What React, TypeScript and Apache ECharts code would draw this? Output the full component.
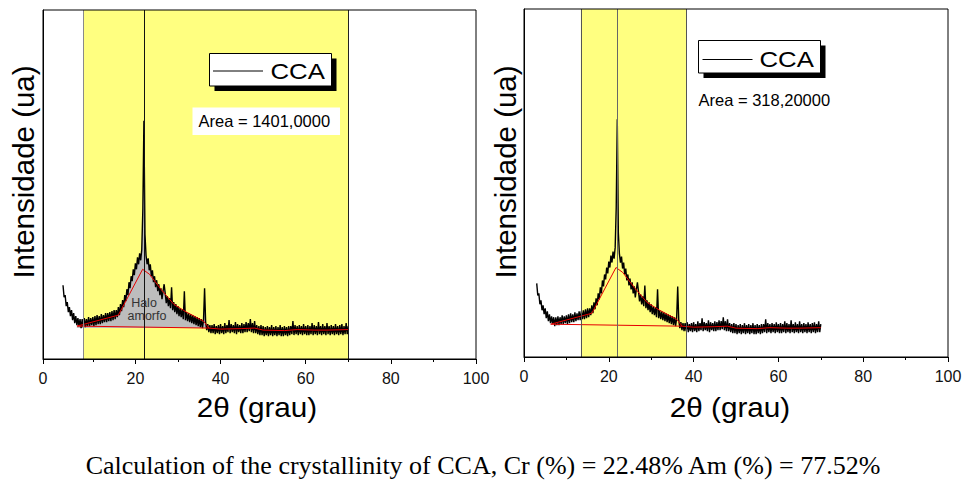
import { useEffect, useRef } from "react";
import * as echarts from "echarts";

// ---- data ----
// XRD scan of CCA: 2θ from 3° to 70°, every 0.25° (noisy trace)
const scanStart = 3;
const scanStep = 0.25;
const intensity = [
  74, 62, 64, 53,
  57, 47, 52, 43,
  49, 39, 46, 36,
  43, 34, 41, 33,
  40, 31, 40, 32,
  41, 32, 40, 33,
  42, 33, 41, 34,
  42, 33, 43, 34,
  44, 35, 43, 35,
  45, 36, 44, 37,
  46, 37, 46, 38,
  47, 38, 48, 39,
  49, 40, 49, 42,
  52, 44, 55, 48,
  59, 52, 64, 58,
  70, 64, 77, 71,
  83, 78, 90, 84,
  96, 90, 102, 95,
  106, 99, 110, 150,
  239, 125, 104, 95,
  101, 89, 95, 83,
  89, 77, 83, 72,
  79, 68, 75, 64,
  71, 60, 68, 75,
  66, 56, 63, 53,
  61, 51, 72, 49,
  57, 47, 55, 45,
  53, 43, 51, 42,
  50, 40, 68, 39,
  47, 38, 46, 37,
  45, 36, 44, 35,
  43, 34, 42, 33,
  41, 32, 40, 31,
  39, 71, 37, 29,
  35, 27, 34, 26,
  34, 26, 35, 25,
  33, 26, 34, 25,
  35, 26, 33, 25,
  36, 26, 34, 27,
  39, 26, 35, 27,
  34, 26, 37, 25,
  35, 27, 34, 26,
  36, 26, 35, 27,
  37, 27, 36, 28,
  40, 27, 36, 26,
  38, 26, 34, 25,
  33, 24, 34, 24,
  33, 23, 32, 24,
  33, 23, 32, 24,
  34, 23, 32, 24,
  33, 23, 32, 24,
  34, 23, 32, 23,
  33, 24, 32, 23,
  33, 24, 33, 25,
  38, 24, 34, 25,
  33, 24, 34, 25,
  33, 24, 35, 25,
  33, 24, 34, 24,
  33, 25, 36, 24,
  34, 25, 33, 24,
  37, 25, 33, 24,
  35, 25, 33, 24,
  36, 25, 33, 24,
  34, 25, 33, 24,
  35, 25, 33, 24,
  34, 25, 35, 24,
  33, 25, 36, 25,
  33,
];

// amorphous halo fit (red)
const haloX = [6.3, 16, 21.7, 23.3, 26, 29, 32, 36, 37.3, 40, 45, 48, 50, 55, 58, 62, 65, 70];
const haloY = [33, 44, 90, 85, 70, 55, 47, 38, 31, 30, 30.5, 31, 29, 28.5, 29.5, 29, 29, 29.5];
// straight baseline (red)
const baseX = [6.3, 37.3];
const baseY = [33, 31];
// shaded "Halo amorfo" region (left panel)
const haloFillFrom = 6.25;
const haloFillTo = 37.25;
const haloFillOrigin = 31;
// integration windows (yellow)
const leftWindow = [7.7, 70];
const rightWindow = [13.4, 38.2];
const mainPeak = 22;

const xTickLabels = ["0", "20", "40", "60", "80", "100"];
const xTickValues = [0, 20, 40, 60, 80, 100];
const xMinorTicks = [10, 30, 50, 70, 90];
const leftAxisStart = -1.7;

const seriesName = "CCA";
const areaTexts = ["Area = 1401,0000", "Area = 318,20000"];
const xTitle = "2θ (grau)";
const yTitle = "Intensidade (ua)";
const haloLabel = ["Halo", "amorfo"];
const caption = "Calculation of the crystallinity of CCA, Cr (%) = 22.48% Am (%) = 77.52%";

const SANS = "'Liberation Sans', Arial, sans-serif";
const SERIF = "'Liberation Serif', 'Times New Roman', serif";

export default function App() {
  const ref = useRef<HTMLDivElement>(null);

  useEffect(() => {
    document.body.style.margin = "0";
    if (!ref.current) return;
    const chart = echarts.init(ref.current, null, { renderer: "svg" });

    const pts = intensity.map((v, i) => [scanStart + i * scanStep, v]);
    const fillPts = pts.filter((p) => p[0] >= haloFillFrom - 1e-9 && p[0] <= haloFillTo + 1e-9);
    const haloPts = haloX.map((x, i) => [x, haloY[i]]);
    const basePts = baseX.map((x, i) => [x, baseY[i]]);

    const leftLabelValues = xTickValues.map((v) => (v === 0 ? leftAxisStart : v));

    const tickLabelStyle = {
      fontSize: 16,
      fontFamily: SANS,
      color: "#111",
      margin: 11,
    };

    const yAxisCommon = {
      type: "value" as const,
      min: 0,
      max: 350,
      axisLine: { show: true, onZero: false, lineStyle: { color: "#000", width: 1 } },
      axisTick: { show: false },
      axisLabel: { show: false },
      splitLine: { show: false },
    };

    const markLineFor = (lines: { x: number; color: string }[]) => ({
      silent: true,
      symbol: ["none", "none"],
      label: { show: false },
      lineStyle: { type: "solid", width: 1 },
      data: lines.map((l) => ({ xAxis: l.x, lineStyle: { color: l.color, type: "solid", width: 1 } })),
    });

    const blackLine = (xi: number, yi: number, win: number[], peakColor: string, leftColor: string, rightColor: string) => ({
      name: seriesName,
      type: "line",
      xAxisIndex: xi,
      yAxisIndex: yi,
      data: pts,
      symbol: "none",
      lineStyle: { color: "#000", width: 1.4 },
      z: 3,
      markArea: {
        silent: true,
        itemStyle: { color: "#ffff80" },
        data: [[{ xAxis: win[0] }, { xAxis: win[1] }]],
      },
      markLine: markLineFor([
        { x: win[0], color: leftColor },
        { x: win[1], color: rightColor },
        { x: mainPeak, color: peakColor },
      ]),
    });

    const redLine = (xi: number, yi: number, data: number[][]) => ({
      type: "line",
      xAxisIndex: xi,
      yAxisIndex: yi,
      data,
      symbol: "none",
      lineStyle: { color: "#e60000", width: 1 },
      z: 4,
    });

    const textEl = (text: string, x: number, y: number, size: number, extra: any = {}, styleExtra: any = {}) => ({
      type: "text",
      x,
      y,
      z: 100,
      ...extra,
      style: {
        text,
        fontSize: size,
        fontFamily: SANS,
        fill: "#000",
        align: "center",
        verticalAlign: "middle",
        ...styleExtra,
      },
    });

    const legend = (bx: number, by: number, lx1: number, ly: number, tx: number) => [
      { type: "rect", z: 100, shape: { x: bx + 5, y: by + 5, width: 122, height: 32.5 }, style: { fill: "#000" } },
      { type: "rect", z: 101, shape: { x: bx, y: by, width: 122, height: 32.5 }, style: { fill: "#fff", stroke: "#000", lineWidth: 1 } },
      { type: "line", z: 102, shape: { x1: lx1, y1: ly, x2: lx1 + 50, y2: ly }, style: { stroke: "#000", lineWidth: 1 } },
      { ...textEl(seriesName, tx, ly - 0.5, 23, { scaleX: 1.12, z: 102 }, { align: "left" }) },
    ];

    const option: any = {
      animation: false,
      backgroundColor: "#fff",
      grid: [
        { left: 43, top: 10, width: 433, height: 349, show: true, borderColor: "#000", borderWidth: 1, backgroundColor: "transparent", z: 6 },
        { left: 524, top: 9, width: 424, height: 348, show: true, borderColor: "#000", borderWidth: 1, backgroundColor: "transparent", z: 6 },
      ],
      xAxis: [
        {
          gridIndex: 0,
          type: "value",
          min: leftAxisStart,
          max: 100,
          axisLine: { show: true, onZero: false, lineStyle: { color: "#000" } },
          axisTick: { show: true, customValues: leftLabelValues, length: 5, lineStyle: { color: "#000" } },
          axisLabel: {
            ...tickLabelStyle,
            customValues: leftLabelValues,
            formatter: (v: number) => xTickLabels[leftLabelValues.findIndex((t) => Math.abs(t - v) < 1e-6)] ?? "",
          },
          splitLine: { show: false },
        },
        {
          gridIndex: 1,
          type: "value",
          min: 0,
          max: 100,
          axisLine: { show: true, onZero: false, lineStyle: { color: "#000" } },
          axisTick: { show: true, customValues: xTickValues, length: 5, lineStyle: { color: "#000" } },
          axisLabel: {
            ...tickLabelStyle,
            customValues: xTickValues,
            formatter: (v: number) => xTickLabels[xTickValues.findIndex((t) => Math.abs(t - v) < 1e-6)] ?? "",
          },
          splitLine: { show: false },
        },
        {
          gridIndex: 0,
          type: "value",
          position: "bottom",
          min: leftAxisStart,
          max: 100,
          axisLine: { show: false, onZero: false },
          axisTick: { show: true, customValues: xMinorTicks, length: 3, lineStyle: { color: "#000" } },
          axisLabel: { show: false },
          splitLine: { show: false },
        },
        {
          gridIndex: 1,
          type: "value",
          position: "bottom",
          min: 0,
          max: 100,
          axisLine: { show: false, onZero: false },
          axisTick: { show: true, customValues: xMinorTicks, length: 3, lineStyle: { color: "#000" } },
          axisLabel: { show: false },
          splitLine: { show: false },
        },
      ],
      yAxis: [
        { ...yAxisCommon, gridIndex: 0 },
        { ...yAxisCommon, gridIndex: 1 },
      ],
      series: [
        {
          type: "line",
          xAxisIndex: 0,
          yAxisIndex: 0,
          data: fillPts,
          symbol: "none",
          lineStyle: { width: 0, color: "#bdbdbd" },
          areaStyle: { color: "#bdbdbd", opacity: 1, origin: haloFillOrigin },
          z: 2,
        },
        blackLine(0, 0, leftWindow, "#111", "#8a8a8a", "#222"),
        redLine(0, 0, haloPts),
        redLine(0, 0, basePts),
        blackLine(1, 1, rightWindow, "#666", "#555", "#555"),
        redLine(1, 1, haloPts),
        redLine(1, 1, basePts),
      ],
      graphic: [
        ...legend(209.5, 53.5, 213, 71, 270.5),
        ...legend(698.5, 40.5, 702.5, 59.5, 759.5),
        { type: "rect", z: 100, shape: { x: 192.5, y: 107.5, width: 147.5, height: 27.5 }, style: { fill: "#fff" } },
        textEl(areaTexts[0], 198.5, 121, 16.5, { z: 101 }, { align: "left" }),
        textEl(areaTexts[1], 698.5, 100, 16.5, { z: 101 }, { align: "left" }),
        textEl(haloLabel[0], 144, 302.5, 12.5, { z: 101 }, { fill: "#333" }),
        textEl(haloLabel[1], 147, 315.5, 12.5, { z: 101 }, { fill: "#333" }),
        textEl(xTitle, 257, 407, 27, { scaleX: 1.1 }),
        textEl(xTitle, 730, 407, 27, { scaleX: 1.1 }),
        textEl(yTitle, 23.5, 172, 29.5, { rotation: Math.PI / 2 }),
        textEl(yTitle, 505.5, 172, 29.5, { rotation: Math.PI / 2 }),
        textEl(caption, 483, 465, 26, {}, { fontFamily: SERIF }),
      ],
    };

    chart.setOption(option);
    return () => chart.dispose();
  }, []);

  return <div ref={ref} style={{ width: 968, height: 481 }} />;
}
